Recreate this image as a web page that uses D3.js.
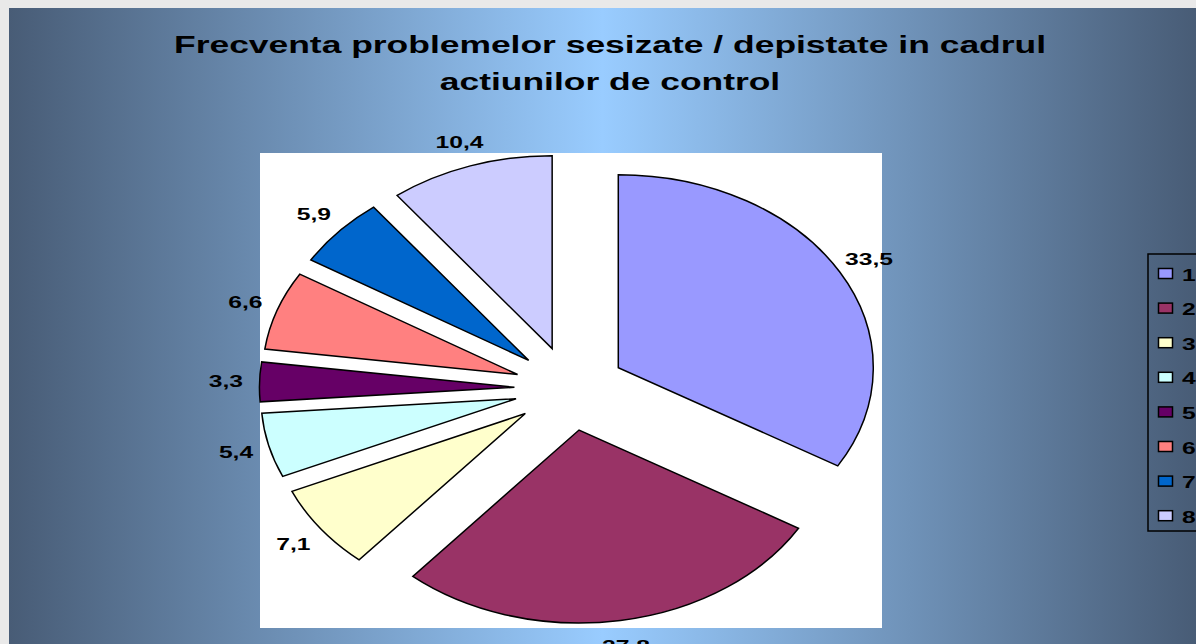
<!DOCTYPE html>
<html>
<head>
<meta charset="utf-8">
<script src="https://cdn.jsdelivr.net/npm/d3@7"></script>
<style>
  html, body { margin: 0; padding: 0; background: #e9e9e9; overflow: hidden; }
  text { font-family: "Liberation Sans", Arial, sans-serif; font-weight: bold; fill: #000; }
</style>
</head>
<body>
<div id="chart"></div>
<script>
var canvasWidth = 1196;
var canvasHeight = 644;

// data
var categories = ["1", "2", "3", "4", "5", "6", "7", "8"];
var values = [33.5, 27.8, 7.1, 5.4, 3.3, 6.6, 5.9, 10.4];
var labels = ["33,5", "27,8", "7,1", "5,4", "3,3", "6,6", "5,9", "10,4"];
var colors = ["#9999ff", "#993366", "#ffffcc", "#ccffff", "#660066", "#ff8080", "#0066cc", "#ccccff"];
var titleLines = ["Frecventa problemelor sesizate / depistate in cadrul", "actiunilor de control"];

var svg = d3.select("#chart")
    .append("svg")
    .attr("width", canvasWidth)
    .attr("height", canvasHeight);

/*background gradient*/
var defs = svg.append("defs");
var grad = defs.append("linearGradient")
    .attr("id", "bg")
    .attr("x1", "0%").attr("x2", "100%")
    .attr("y1", "0%").attr("y2", "0%");
grad.append("stop").attr("offset", "0%").attr("stop-color", "#485c76");
grad.append("stop").attr("offset", "50%").attr("stop-color", "#99ccff");
grad.append("stop").attr("offset", "100%").attr("stop-color", "#485c76");

svg.append("rect")
    .attr("x", 9).attr("y", 8)
    .attr("width", 1187).attr("height", 636)
    .attr("fill", "url(#bg)");

/*plot area*/
svg.append("rect")
    .attr("x", 260).attr("y", 153)
    .attr("width", 622).attr("height", 475)
    .attr("fill", "#ffffff");

/*title*/
var titleSx = 1.54;
svg.selectAll(".title")
    .data(titleLines)
    .join("text")
    .attr("class", "title")
    .attr("text-anchor", "middle")
    .attr("font-size", 23)
    .attr("transform", function(d, i) { return "translate(610," + (53 + i * 37) + ") scale(" + titleSx + ",1)"; })
    .text(function(d) { return d; });

/*pie - drawn as circle, stretched into an ellipse*/
var cx = 570, cy = 388.5, rx = 255, ry = 193;
var explode = 0.218;
var labelR = 1.35;
var labelSx = 1.45;

var pie = d3.pie().sort(null).value(function(d) { return d; });
var arcs = pie(values);
var arc = d3.arc().innerRadius(0).outerRadius(ry);

var pieG = svg.append("g")
    .attr("transform", "translate(" + cx + "," + cy + ") scale(" + (rx / ry) + ",1)");

function mid(d) { return (d.startAngle + d.endAngle) / 2; }

pieG.selectAll(".slice")
    .data(arcs)
    .join("path")
    .attr("class", "slice")
    .attr("d", arc)
    .attr("transform", function(d) {
        var a = mid(d);
        return "translate(" + (explode * ry * Math.sin(a)) + "," + (-explode * ry * Math.cos(a)) + ")";
    })
    .attr("fill", function(d, i) { return colors[i]; })
    .attr("stroke", "#000")
    .attr("stroke-width", 1.5)
    .attr("vector-effect", "non-scaling-stroke");

/*data labels*/
svg.selectAll(".lbl")
    .data(arcs)
    .join("text")
    .attr("class", "lbl")
    .attr("text-anchor", "middle")
    .attr("dominant-baseline", "central")
    .attr("font-size", 17)
    .attr("transform", function(d) {
        var a = mid(d);
        var x = cx + labelR * rx * Math.sin(a);
        var y = cy - labelR * ry * Math.cos(a);
        return "translate(" + x + "," + y + ") scale(" + labelSx + ",1)";
    })
    .text(function(d, i) { return labels[i]; });

/*legend*/
var legend = svg.append("g").attr("transform", "translate(1148,254)");
legend.append("rect")
    .attr("x", 0).attr("y", 0)
    .attr("width", 80).attr("height", 277)
    .attr("fill", "none")
    .attr("stroke", "#000")
    .attr("stroke-width", 1.5);

var items = legend.selectAll(".item")
    .data(categories)
    .join("g")
    .attr("class", "item")
    .attr("transform", function(d, i) { return "translate(0," + (19.5 + i * 34.6) + ")"; });

items.append("rect")
    .attr("x", 10.5).attr("y", -5)
    .attr("width", 14).attr("height", 10)
    .attr("fill", function(d, i) { return colors[i]; })
    .attr("stroke", "#000")
    .attr("stroke-width", 1.5);

items.append("text")
    .attr("dominant-baseline", "central")
    .attr("font-size", 17)
    .attr("transform", "translate(34,1) scale(" + labelSx + ",1)")
    .text(function(d) { return d; });
</script>
</body>
</html>
